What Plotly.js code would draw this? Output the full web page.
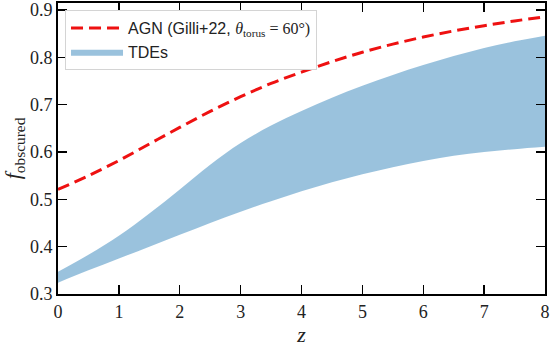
<!DOCTYPE html>
<html>
<head>
<meta charset="utf-8">
<script src="https://cdn.plot.ly/plotly-3.0.1.min.js"></script>
<style>
  html, body { margin: 0; padding: 0; background: #fff; }
  #chart { width: 550px; height: 347px; }
</style>
</head>
<body>
<div id="chart"></div>
<script>
// Redshift grid
const redshift = [0, 0.5, 1, 1.5, 2, 2.5, 3, 3.5, 4, 4.5, 5, 5.5, 6, 6.5, 7, 7.5, 8];
// Obscured fraction of AGN (Gilli+22, torus opening angle 60 deg)
const agnObscured = [0.521, 0.550, 0.582, 0.617, 0.652, 0.686, 0.717, 0.745, 0.769, 0.791, 0.811, 0.828, 0.843, 0.856, 0.867, 0.877, 0.886];
// TDE obscured-fraction range: lower and upper bounds
const tdeLower = [0.324, 0.350, 0.375, 0.400, 0.425, 0.450, 0.474, 0.496, 0.517, 0.536, 0.553, 0.568, 0.581, 0.592, 0.600, 0.606, 0.611];
const tdeUpper = [0.347, 0.383, 0.423, 0.470, 0.521, 0.573, 0.619, 0.656, 0.687, 0.715, 0.740, 0.763, 0.784, 0.803, 0.820, 0.834, 0.846];

const serif = "'Liberation Serif', 'Times New Roman', serif";
const sans = "'Liberation Sans', 'DejaVu Sans', sans-serif";

const traces = [
  {
    x: redshift, y: tdeLower,
    mode: 'lines', line: {width: 0, shape: 'spline', smoothing: 1, color: 'rgba(0,0,0,0)'},
    showlegend: false, hoverinfo: 'skip'
  },
  {
    x: redshift, y: tdeUpper,
    mode: 'lines', line: {width: 0, shape: 'spline', smoothing: 1, color: 'rgba(0,0,0,0)'},
    fill: 'tonexty', fillcolor: 'rgba(31,119,180,0.45)',
    name: 'TDEs', legendrank: 2
  },
  {
    x: redshift, y: agnObscured,
    mode: 'lines',
    line: {color: '#ee1111', width: 3, dash: '12px,6px', shape: 'spline', smoothing: 1},
    name: "AGN (Gilli+22, <span style='font-family:Liberation Serif'><i>θ</i><sub>torus</sub> = 60°)</span>",
    legendrank: 1
  }
];

const axisCommon = {
  showgrid: false, zeroline: false,
  showline: true, linecolor: '#000', linewidth: 2, mirror: 'ticks',
  ticks: 'inside', ticklen: 9, tickwidth: 1.3, tickcolor: '#000',
  tickfont: {family: serif, size: 18, color: '#222'}
};

const layout = {
  width: 550, height: 347,
  margin: {l: 58, r: 5, t: 3, b: 53},
  paper_bgcolor: '#fff', plot_bgcolor: '#fff',
  xaxis: Object.assign({}, axisCommon, {
    range: [0, 8], dtick: 1,
    title: {text: '<i>z</i>', font: {family: serif, size: 22, color: '#222'}, standoff: 13}
  }),
  yaxis: Object.assign({}, axisCommon, {
    range: [0.3, 0.915], dtick: 0.1, tickformat: '.1f',
    title: {text: '<i>f</i><sub>obscured</sub>', font: {family: serif, size: 22, color: '#222'}, standoff: 6}
  }),
  legend: {
    x: 0.0144, y: 0.976, xanchor: 'left', yanchor: 'top',
    traceorder: 'normal',
    bgcolor: '#fff', bordercolor: '#d4d4d4', borderwidth: 1,
    font: {family: sans, size: 16, color: '#222'},
    itemwidth: 52, tracegroupgap: 2
  },
  showlegend: true
};

Plotly.newPlot('chart', traces, layout, {displayModeBar: false, staticPlot: true});
</script>
</body>
</html>
